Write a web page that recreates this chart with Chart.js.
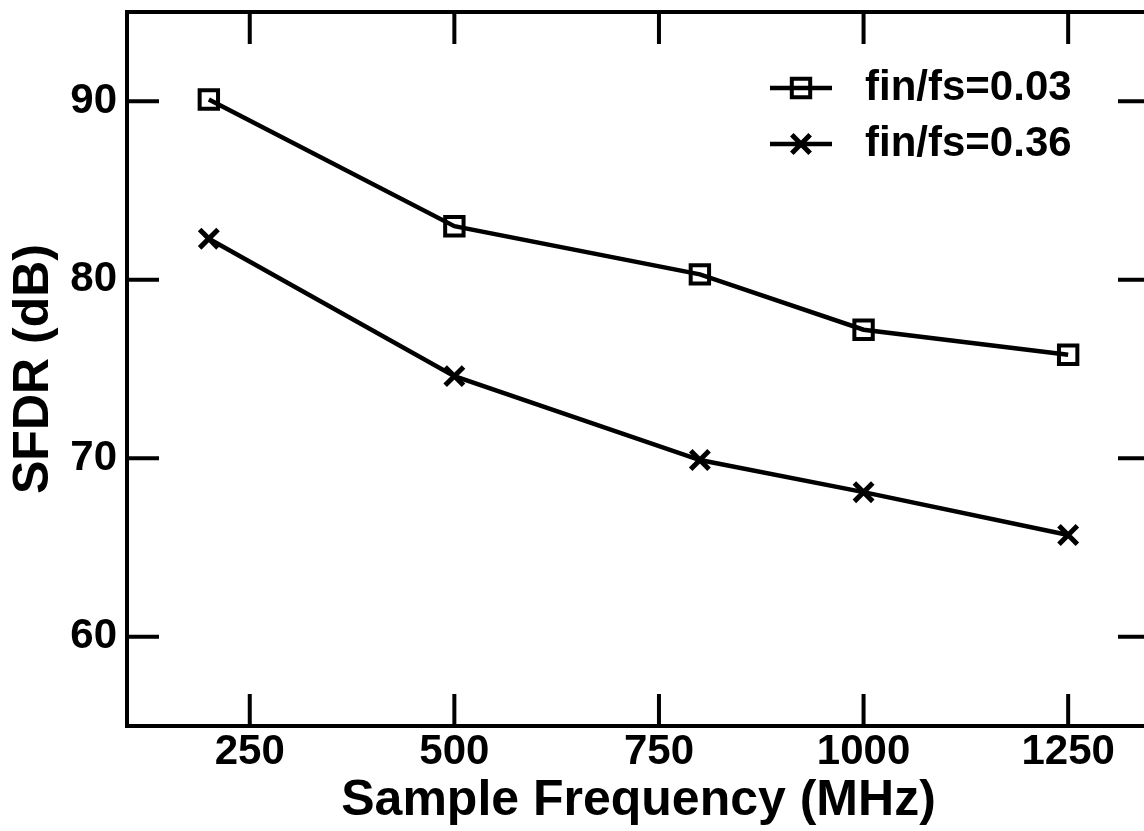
<!DOCTYPE html>
<html>
<head>
<meta charset="utf-8">
<script src="https://cdn.jsdelivr.net/npm/chart.js@4/dist/chart.umd.min.js"></script>
<style>
    html, body { margin: 0; padding: 0; overflow: hidden; background: #fff; }
    #wrap { width: 1160px; height: 831px; position: relative; }
</style>
</head>
<body>
<div id="wrap"><canvas id="sfdrChart"></canvas></div>
<script>
const sampleFreq = [200, 500, 800, 1000, 1250];
const sfdrLow = [90.1, 83.0, 80.3, 77.2, 75.8];    // fin/fs=0.03
const sfdrHigh = [82.3, 74.6, 69.9, 68.1, 65.7];   // fin/fs=0.36
const seriesNames = ['fin/fs=0.03', 'fin/fs=0.36'];
const xTickValues = [250, 500, 750, 1000, 1250];
const yTickValues = [60, 70, 80, 90];

const FONT = '"Liberation Sans", Arial, Helvetica, sans-serif';
const INK = '#000';

// frame box with inward ticks on all four sides
const frameTicks = {
    id: 'frameTicks',
    afterDraw(chart) {
        const { ctx, chartArea: a, scales } = chart;
        const len = 32;
        ctx.save();
        ctx.strokeStyle = INK;
        ctx.lineWidth = 4;
        ctx.lineCap = 'butt';
        ctx.strokeRect(a.left, a.top, a.right - a.left, a.bottom - a.top);
        ctx.beginPath();
        xTickValues.forEach(v => {
            const px = scales.x.getPixelForValue(v);
            ctx.moveTo(px, a.bottom); ctx.lineTo(px, a.bottom - len);
            ctx.moveTo(px, a.top); ctx.lineTo(px, a.top + len);
        });
        yTickValues.forEach(v => {
            const py = scales.y.getPixelForValue(v);
            ctx.moveTo(a.left, py); ctx.lineTo(a.left + len, py);
            ctx.moveTo(a.right, py); ctx.lineTo(a.right - len, py);
        });
        ctx.stroke();
        ctx.restore();
    }
};

function drawMarker(ctx, style, x, y, r) {
    ctx.beginPath();
    if (style === 'rect') {
        const s = r * Math.SQRT1_2;
        ctx.rect(x - s, y - s, 2 * s, 2 * s);
    } else {
        const o = r * Math.SQRT1_2;
        ctx.moveTo(x - o, y - o); ctx.lineTo(x + o, y + o);
        ctx.moveTo(x - o, y + o); ctx.lineTo(x + o, y - o);
    }
    ctx.stroke();
}

// legend: short line with marker, then label
const lineLegend = {
    id: 'lineLegend',
    afterDraw(chart) {
        const { ctx } = chart;
        const rows = [88, 144];
        ctx.save();
        chart.data.datasets.forEach((ds, i) => {
            const y = rows[i];
            ctx.strokeStyle = ds.borderColor;
            ctx.lineWidth = ds.borderWidth;
            ctx.beginPath();
            ctx.moveTo(770, y); ctx.lineTo(832, y);
            ctx.stroke();
            ctx.lineWidth = ds.pointBorderWidth;
            drawMarker(ctx, ds.pointStyle === 'rect' ? 'rect' : 'cross', 801, y, ds.pointRadius);
            ctx.fillStyle = INK;
            ctx.font = 'bold 42px ' + FONT;
            ctx.textAlign = 'left';
            ctx.textBaseline = 'middle';
            ctx.fillText(ds.label, 865, y);
        });
        ctx.restore();
    }
};

new Chart(document.getElementById('sfdrChart'), {
    type: 'line',
    data: {
        datasets: [{
            label: seriesNames[0],
            data: sampleFreq.map((f, i) => ({ x: f, y: sfdrLow[i] })),
            borderColor: INK,
            borderWidth: 4.5,
            pointStyle: 'rect',
            pointRadius: 13,
            pointBorderWidth: 4,
            pointBorderColor: INK,
            pointBackgroundColor: 'rgba(0,0,0,0)',
            tension: 0
        }, {
            label: seriesNames[1],
            data: sampleFreq.map((f, i) => ({ x: f, y: sfdrHigh[i] })),
            borderColor: INK,
            borderWidth: 4.5,
            pointStyle: 'crossRot',
            pointRadius: 13,
            pointBorderWidth: 5,
            pointBorderColor: INK,
            tension: 0
        }]
    },
    options: {
        responsive: true,
        maintainAspectRatio: false,
        animation: false,
        layout: { autoPadding: false, padding: { top: 12, right: 10, bottom: 0, left: 0 } },
        scales: {
            x: {
                type: 'linear',
                min: 100,
                max: 1350,
                afterBuildTicks: s => { s.ticks = xTickValues.map(v => ({ value: v })); },
                afterFit: s => { s.height = 105; s.paddingLeft = 0; s.paddingRight = 0; },
                grid: { display: false, drawTicks: false },
                border: { display: false },
                ticks: {
                    color: INK,
                    padding: 1,
                    maxRotation: 0,
                    callback: v => String(v),
                    font: { family: FONT, size: 42, weight: 'bold' }
                },
                title: {
                    display: true,
                    text: 'Sample Frequency (MHz)',
                    color: INK,
                    padding: { top: 11, bottom: 0 },
                    font: { family: FONT, size: 50, weight: 'bold' }
                }
            },
            y: {
                type: 'linear',
                min: 55,
                max: 95,
                afterBuildTicks: s => { s.ticks = yTickValues.map(v => ({ value: v })); },
                afterFit: s => { s.width = 127; s.paddingTop = 0; s.paddingBottom = 0; },
                grid: { display: false, drawTicks: false },
                border: { display: false },
                ticks: {
                    color: INK,
                    padding: 10,
                    callback: v => String(v),
                    font: { family: FONT, size: 42, weight: 'bold' }
                },
                title: {
                    display: true,
                    text: 'SFDR (dB)',
                    color: INK,
                    padding: { top: 4, bottom: 0 },
                    font: { family: FONT, size: 50, weight: 'bold' }
                }
            }
        },
        plugins: {
            legend: { display: false },
            tooltip: { enabled: false }
        }
    },
    plugins: [frameTicks, lineLegend]
});
</script>
</body>
</html>
